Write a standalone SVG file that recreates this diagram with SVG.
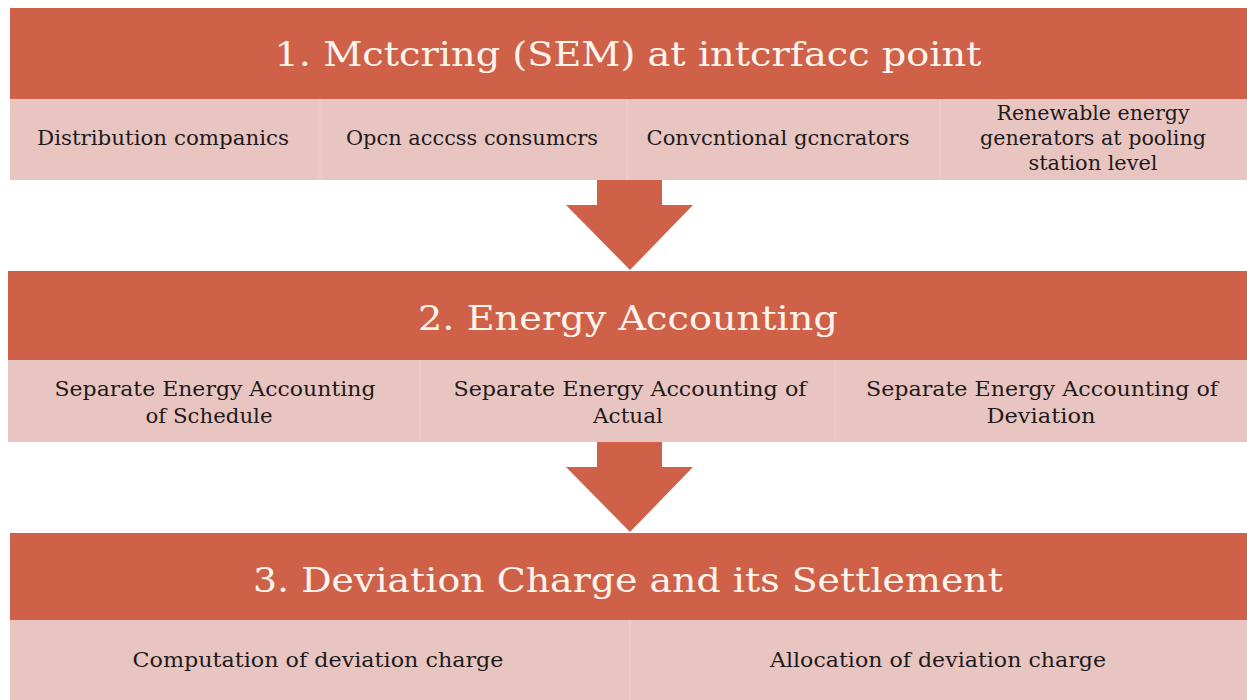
<svg xmlns="http://www.w3.org/2000/svg" width="1247" height="700" viewBox="0 0 1247 700">
<style>
.hdr{fill:#CF6149}
.sub{fill:#E9C5C1}
.div{stroke:#EDCDC9;stroke-width:1.5}
.arrow{fill:#CF6149}
.ttl{font-family:"DejaVu Serif","Liberation Serif",serif;font-size:34px;fill:#FDF4EE;text-anchor:middle}
.st{font-family:"DejaVu Serif","Liberation Serif",serif;font-size:20px;fill:#1E1A1A;text-anchor:middle}
</style>
<rect width="1247" height="700" fill="#FFFFFF"/>
<g id="stage1">
<rect class="hdr" x="10" y="8" width="1237" height="91"/>
<rect class="sub" x="10" y="99" width="1237" height="81"/>
<line class="div" x1="320" y1="99" x2="320" y2="180"/>
<line class="div" x1="627" y1="99" x2="627" y2="180"/>
<line class="div" x1="940" y1="99" x2="940" y2="180"/>
<text class="ttl" x="628" y="66" textLength="707" lengthAdjust="spacingAndGlyphs">1. Mctcring (SEM) at intcrfacc point</text>
<text class="st" x="163" y="145" textLength="252" lengthAdjust="spacingAndGlyphs">Distribution companics</text>
<text class="st" x="472" y="145" textLength="252" lengthAdjust="spacingAndGlyphs">Opcn acccss consumcrs</text>
<text class="st" x="778" y="145" textLength="263" lengthAdjust="spacingAndGlyphs">Convcntional gcncrators</text>
<text class="st" x="1093" y="120" textLength="193" lengthAdjust="spacingAndGlyphs">Renewable energy</text>
<text class="st" x="1093" y="145" textLength="226" lengthAdjust="spacingAndGlyphs">generators at pooling</text>
<text class="st" x="1093" y="170" textLength="129" lengthAdjust="spacingAndGlyphs">station level</text>
</g>
<g id="stage2">
<rect class="hdr" x="8" y="271" width="1239" height="89"/>
<rect class="sub" x="8" y="360" width="1239" height="82"/>
<line class="div" x1="420" y1="360" x2="420" y2="442"/>
<line class="div" x1="835" y1="360" x2="835" y2="442"/>
<text class="ttl" x="628" y="330" textLength="420" lengthAdjust="spacingAndGlyphs">2. Energy Accounting</text>
<text class="st" x="215" y="396" textLength="321" lengthAdjust="spacingAndGlyphs">Separate Energy Accounting</text>
<text class="st" x="209" y="423" textLength="127" lengthAdjust="spacingAndGlyphs">of Schedule</text>
<text class="st" x="630" y="396" textLength="353" lengthAdjust="spacingAndGlyphs">Separate Energy Accounting of</text>
<text class="st" x="628" y="423" textLength="70" lengthAdjust="spacingAndGlyphs">Actual</text>
<text class="st" x="1042" y="396" textLength="352" lengthAdjust="spacingAndGlyphs">Separate Energy Accounting of</text>
<text class="st" x="1041" y="423" textLength="109" lengthAdjust="spacingAndGlyphs">Deviation</text>
</g>
<g id="stage3">
<rect class="hdr" x="10" y="533" width="1237" height="87"/>
<rect class="sub" x="10" y="620" width="1237" height="80"/>
<line class="div" x1="630" y1="620" x2="630" y2="700"/>
<text class="ttl" x="628" y="592" textLength="750" lengthAdjust="spacingAndGlyphs">3. Deviation Charge and its Settlement</text>
<text class="st" x="318" y="667" textLength="371" lengthAdjust="spacingAndGlyphs">Computation of deviation charge</text>
<text class="st" x="938" y="667" textLength="336" lengthAdjust="spacingAndGlyphs">Allocation of deviation charge</text>
</g>
<g id="connectors">
<polygon class="arrow" points="597,180 662,180 662,205 693,205 630,270 566,205 597,205"/>
<polygon class="arrow" points="597,442 662,442 662,467 693,467 630,532 566,467 597,467"/>
</g>
</svg>
